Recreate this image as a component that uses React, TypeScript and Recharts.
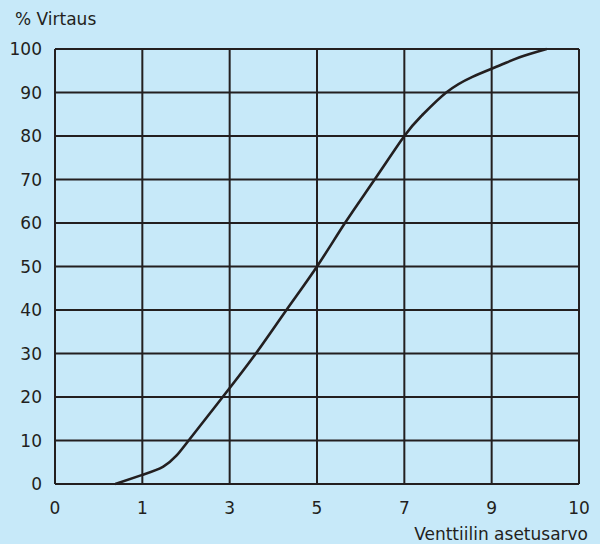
import React from 'react';
import { LineChart, Line, XAxis, YAxis, CartesianGrid } from 'recharts';

// x tick labels (valve setting) placed at evenly spaced grid positions
const xTickLabels = ['0', '1', '3', '5', '7', '9', '10'];
const xTickPositions = [0, 1, 2, 3, 4, 5, 6];
const yTicks = [0, 10, 20, 30, 40, 50, 60, 70, 80, 90, 100];

// curve, x in grid-position units, y in % flow
const curveX = [0.69, 1, 1.24, 1.39, 1.53, 1.92, 2.3, 2.65, 3, 3.32, 3.66, 4, 4.2, 4.48, 4.78, 5.09, 5.32, 5.63];
const curveY = [0, 2.1, 4.0, 6.5, 10, 20, 30, 40, 50, 60, 70, 80, 84.7, 90, 93.6, 96.2, 98.1, 100];

const data = curveX.map((x, i) => ({ x, y: curveY[i] }));

const BG = '#c7e9f9';
const INK = '#231f20';
const FONT = '"DejaVu Sans", sans-serif';

export default function App() {
  return (
    <div style={{ position: 'absolute', left: 0, top: 0, width: 600, height: 544, background: BG, fontFamily: FONT, color: INK, overflow: 'hidden' }}>
      <LineChart width={600} height={544} data={data} margin={{ top: 49, right: 21, left: 0, bottom: 0 }}>
        <CartesianGrid stroke={INK} strokeWidth={2} fill="none" />
        <XAxis
          type="number"
          dataKey="x"
          domain={[0, 6]}
          ticks={xTickPositions}
          tickFormatter={(v: number) => xTickLabels[xTickPositions.indexOf(v)] ?? ''}
          axisLine={false}
          tickLine={false}
          tickSize={0}
          tickMargin={18}
          height={60}
          interval={0}
          tick={{ fill: INK, fontSize: 17, fontFamily: FONT }}
        />
        <YAxis
          type="number"
          domain={[0, 100]}
          ticks={yTicks}
          axisLine={false}
          tickLine={false}
          tickSize={0}
          tickMargin={13}
          width={55}
          interval={0}
          tick={{ fill: INK, fontSize: 17, fontFamily: FONT }}
        />
        <Line type="natural" dataKey="y" stroke={INK} strokeWidth={2.6} dot={false} isAnimationActive={false} />
      </LineChart>
      <div style={{ position: 'absolute', left: 15, top: 10.6, fontSize: 17, lineHeight: '17px', whiteSpace: 'nowrap' }}>% Virtaus</div>
      <div style={{ position: 'absolute', right: 12, top: 527, fontSize: 17, lineHeight: '14px', whiteSpace: 'nowrap' }}>Venttiilin asetusarvo</div>
    </div>
  );
}
